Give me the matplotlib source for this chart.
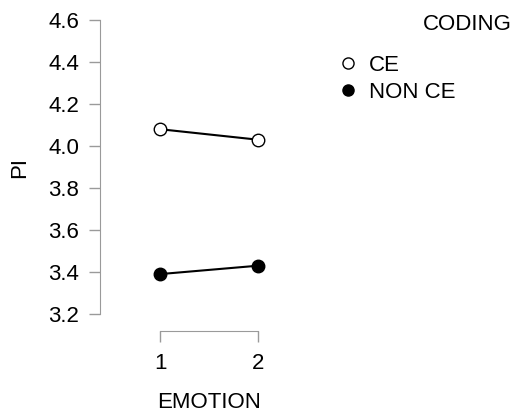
import matplotlib
matplotlib.use('Agg')
import matplotlib.pyplot as plt
from matplotlib.lines import Line2D

plt.rcParams['font.family'] = ['Liberation Sans', 'DejaVu Sans']

# data
emotion = [1, 2]
emotion_labels = ['1', '2']
ce_means = [4.08, 4.03]
non_ce_means = [3.39, 3.43]
y_ticks = [3.2, 3.4, 3.6, 3.8, 4.0, 4.2, 4.4, 4.6]

FS = 16
W, H = 516, 412
fig = plt.figure(figsize=(W / 100, H / 100), dpi=100)
ax = fig.add_axes([100 / W, 1 - 331 / H, 200 / W, 316 / H])

ax.plot(emotion, ce_means, color='black', lw=1.5, marker='o', ms=9,
        mfc='white', mec='black', mew=1.0, label='CE', zorder=3)
ax.plot(emotion, non_ce_means, color='black', lw=1.5, marker='o', ms=9,
        mfc='black', mec='black', mew=1.0, label='NON CE', zorder=3)

ax.set_xlim(1 - 60 / 98, 1 + 140 / 98)
ax.set_ylim(3.2 - 17 / 210, 3.2 + 316 / 210 - 17 / 210)

ax.set_xticks(emotion)
ax.set_xticklabels(emotion_labels)
ax.set_yticks(y_ticks)
ax.set_yticklabels(['%.1f' % v for v in y_ticks])

for s in ['top', 'right']:
    ax.spines[s].set_visible(False)
ax.spines['left'].set_bounds(3.2, 4.6)
ax.spines['bottom'].set_bounds(1, 2)
ax.spines['left'].set_color('#9a9a9a')
ax.spines['bottom'].set_color('#9a9a9a')
ax.tick_params(axis='both', colors='#9a9a9a', labelcolor='black', labelsize=FS,
               length=8, width=1)
ax.tick_params(axis='y', pad=7)
ax.tick_params(axis='x', pad=8)

ax.set_ylabel('PI', fontsize=FS)
ax.yaxis.set_label_coords(-80 / 200, (331 - 167) / 316)
ax.set_xlabel('EMOTION', fontsize=FS)
ax.xaxis.set_label_coords(109 / 200, -(403 - 331) / 316)
ax.xaxis.label.set_va('center')
ax.yaxis.label.set_va('center')

handles = [
    Line2D([], [], ls='none', marker='o', ms=8, mfc='white', mec='black', mew=1.0),
    Line2D([], [], ls='none', marker='o', ms=8, mfc='black', mec='black', mew=1.0),
]
ax.legend(handles, ['CE', 'NON CE'], loc='upper left',
          bbox_to_anchor=(337 / W, 1 - 55 / H), bbox_transform=fig.transFigure,
          frameon=False, fontsize=FS, handlelength=1.0, handletextpad=0.45,
          labelspacing=0.25, borderpad=0, borderaxespad=0)
fig.text(512 / W, 1 - 25 / H, 'CODING', ha='right', va='center', fontsize=FS)

fig.savefig('out.png', dpi=100)
